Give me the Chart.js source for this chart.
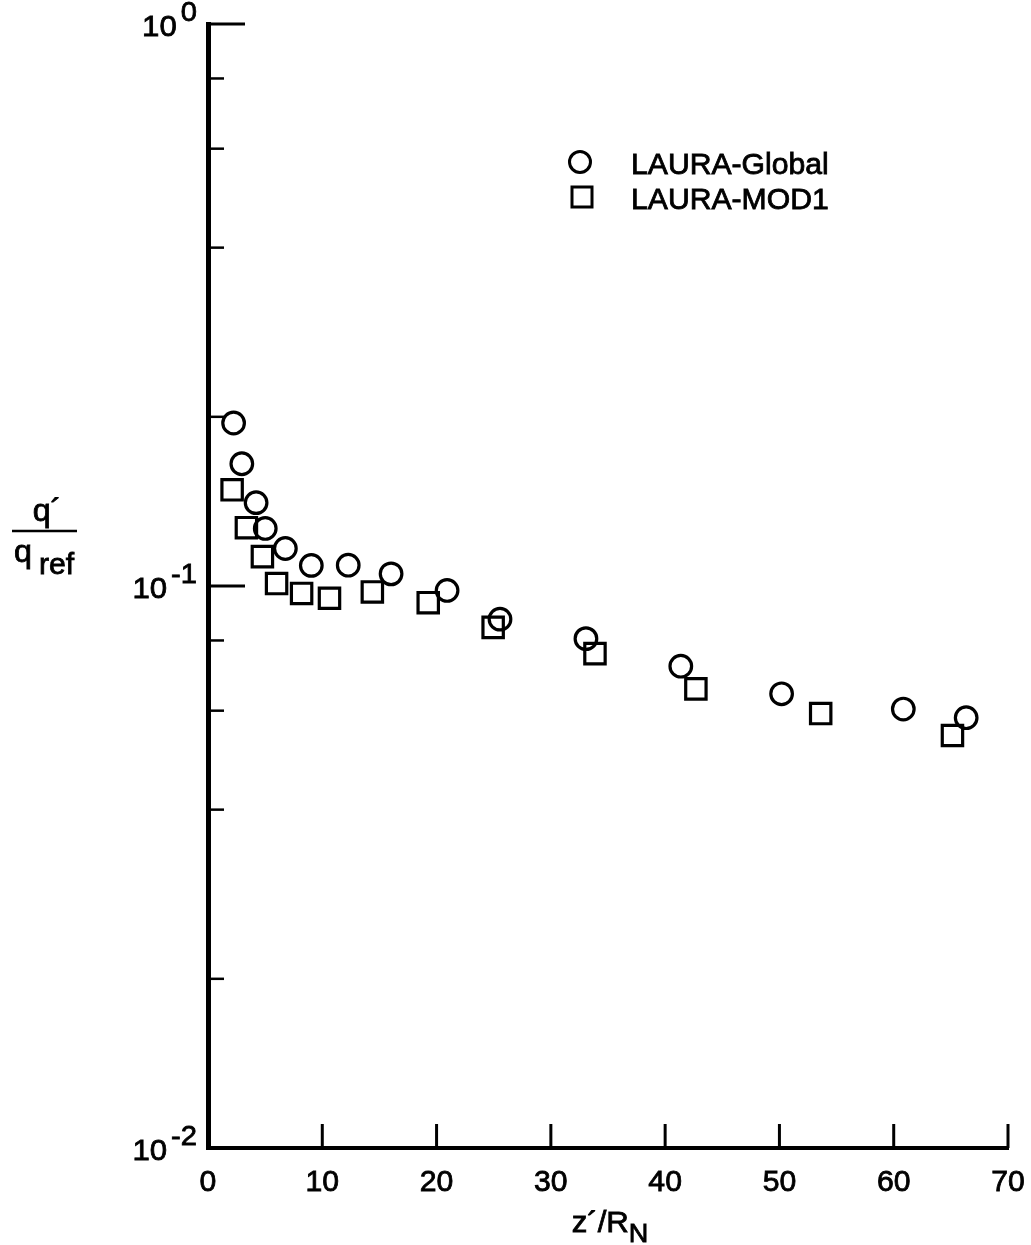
<!DOCTYPE html>
<html>
<head>
<meta charset="utf-8">
<script src="https://cdn.jsdelivr.net/npm/chart.js@4/dist/chart.umd.min.js"></script>
<style>
  html, body { margin: 0; padding: 0; background: #fff; }
  canvas { display: block; }
</style>
</head>
<body>
<canvas id="canvas" width="1031" height="1245"></canvas>
<script>
'use strict';

// values
var globalX = [2.24, 2.96, 4.21, 5.01, 6.77, 9.04, 12.27, 16.02, 20.92, 25.55, 33.07, 41.37, 50.19, 60.84, 66.34];
var globalY = [0.195, 0.165, 0.1407, 0.1266, 0.1166, 0.1088, 0.1089, 0.1051, 0.0982, 0.0873, 0.0806, 0.072, 0.0643, 0.0604, 0.0583];
var mod1X = [2.11, 3.36, 4.76, 6.0, 8.19, 10.63, 14.38, 19.27, 24.95, 33.86, 42.69, 53.61, 65.14];
var mod1Y = [0.1483, 0.127, 0.1128, 0.101, 0.097, 0.0951, 0.0976, 0.0934, 0.0844, 0.0758, 0.0656, 0.0593, 0.0542];

var seriesNames = ['LAURA-Global', 'LAURA-MOD1'];
var xTicks = [0, 10, 20, 30, 40, 50, 60, 70];
var yMajor = [0.01, 0.1, 1];
var yMajorExp = ['-2', '-1', '0'];
var yMinor = [0.02, 0.04, 0.06, 0.08, 0.2, 0.4, 0.6, 0.8];

var FONT = '"Liberation Sans", Arial, Helvetica, sans-serif';
var SX = 1.04; // scanned text is a bit wider than the font

function toPoints(xs, ys) {
    return xs.map(function (x, i) { return {x: x, y: ys[i]}; });
}

function txt(ctx, s, x, y, size, align) {
    ctx.save();
    ctx.font = size + 'px ' + FONT;
    ctx.fillStyle = '#000';
    ctx.strokeStyle = '#000';
    ctx.lineWidth = 0.8;
    ctx.textBaseline = 'alphabetic';
    var w = ctx.measureText(s).width * SX;
    var left = x;
    if (align === 'right') left = x - w;
    if (align === 'center') left = x - w / 2;
    ctx.translate(left, y);
    ctx.scale(SX, 1);
    ctx.textAlign = 'left';
    ctx.fillText(s, 0, 0);
    ctx.strokeText(s, 0, 0);
    ctx.restore();
    return w;
}

function textWidth(ctx, s, size) {
    ctx.save();
    ctx.font = size + 'px ' + FONT;
    var w = ctx.measureText(s).width * SX;
    ctx.restore();
    return w;
}

var axesDecor = {
    id: 'axesDecor',
    afterDraw: function (chart) {
        var ctx = chart.ctx;
        var xs = chart.scales.x, ys = chart.scales.y;
        var left = chart.chartArea.left, bottom = chart.chartArea.bottom;
        ctx.save();
        ctx.strokeStyle = '#000';
        ctx.lineCap = 'butt';

        // x ticks point up into the plot
        ctx.lineWidth = 3;
        xTicks.forEach(function (v) {
            if (v === 0) return;
            var px = xs.getPixelForValue(v);
            ctx.beginPath();
            ctx.moveTo(px, bottom);
            ctx.lineTo(px, bottom - 24);
            ctx.stroke();
        });
        xTicks.forEach(function (v) {
            txt(ctx, String(v), xs.getPixelForValue(v), 1191, 29, 'center');
        });

        // y ticks point right
        ctx.lineWidth = 3;
        yMajor.forEach(function (v) {
            if (v === 0.01) return;
            var py = ys.getPixelForValue(v);
            ctx.beginPath();
            ctx.moveTo(left, py);
            ctx.lineTo(left + 37, py);
            ctx.stroke();
        });
        ctx.lineWidth = 2.5;
        yMinor.forEach(function (v) {
            var py = ys.getPixelForValue(v);
            ctx.beginPath();
            ctx.moveTo(left, py);
            ctx.lineTo(left + 16, py);
            ctx.stroke();
        });

        yMajor.forEach(function (v, i) {
            var py = ys.getPixelForValue(v);
            var exp = yMajorExp[i];
            var ew = textWidth(ctx, exp, 28);
            var right = left - 11;
            txt(ctx, exp, right, py - 3, 28, 'right');
            txt(ctx, '10', right - ew - 4, py + 12, 30, 'right');
        });

        // y title as a fraction
        txt(ctx, 'q\u00B4', 47, 521, 31, 'center');
        ctx.lineWidth = 2.5;
        ctx.beginPath();
        ctx.moveTo(12, 531);
        ctx.lineTo(77, 531);
        ctx.stroke();
        var qw = txt(ctx, 'q', 14, 562, 31, 'left');
        txt(ctx, 'ref', 14 + qw + 7, 574, 29, 'left');

        // x title z'/R_N
        var mainW = textWidth(ctx, 'z\u00B4/R', 30);
        var subW = textWidth(ctx, 'N', 26);
        var cx = (xs.left + xs.right) / 2 + 2;
        var x0 = cx - (mainW + subW) / 2;
        txt(ctx, 'z\u00B4/R', x0, 1232, 30, 'left');
        txt(ctx, 'N', x0 + mainW, 1242, 26, 'left');

        // legend
        var items = chart.data.datasets;
        var rows = [162, 197];
        items.forEach(function (ds, i) {
            var cy = rows[i];
            ctx.lineWidth = 3;
            ctx.beginPath();
            if (ds.pointStyle === 'circle') {
                ctx.arc(580, cy, 10.5, 0, Math.PI * 2);
            } else {
                ctx.rect(582 - 10, cy - 10, 20, 20);
            }
            ctx.stroke();
            txt(ctx, ds.label, 631, cy + 12, 29, 'left');
        });
        ctx.restore();
    }
};

var ctx = document.getElementById('canvas').getContext('2d');
var chart = new Chart(ctx, {
    type: 'scatter',
    data: {
        datasets: [{
            label: seriesNames[0],
            data: toPoints(globalX, globalY),
            pointStyle: 'circle',
            radius: 10.8,
            borderWidth: 3.2,
            borderColor: '#000',
            backgroundColor: 'rgba(0,0,0,0)'
        }, {
            label: seriesNames[1],
            data: toPoints(mod1X, mod1Y),
            pointStyle: 'rect',
            radius: 14.4,
            borderWidth: 3.2,
            borderColor: '#000',
            backgroundColor: 'rgba(0,0,0,0)'
        }]
    },
    options: {
        responsive: false,
        animation: false,
        devicePixelRatio: 1,
        clip: false,
        layout: {padding: {left: 208, right: 23, top: 24, bottom: 97}},
        plugins: {
            legend: {display: false},
            tooltip: {enabled: false}
        },
        elements: {point: {hoverRadius: 10.8}},
        scales: {
            x: {
                type: 'linear',
                min: 0,
                max: 70,
                ticks: {display: false},
                grid: {display: false, drawTicks: false},
                border: {display: true, width: 4, color: '#000'}
            },
            y: {
                type: 'logarithmic',
                min: 0.01,
                max: 1,
                ticks: {display: false},
                grid: {display: false, drawTicks: false},
                border: {display: true, width: 5, color: '#000'}
            }
        }
    },
    plugins: [axesDecor]
});
</script>
</body>
</html>
